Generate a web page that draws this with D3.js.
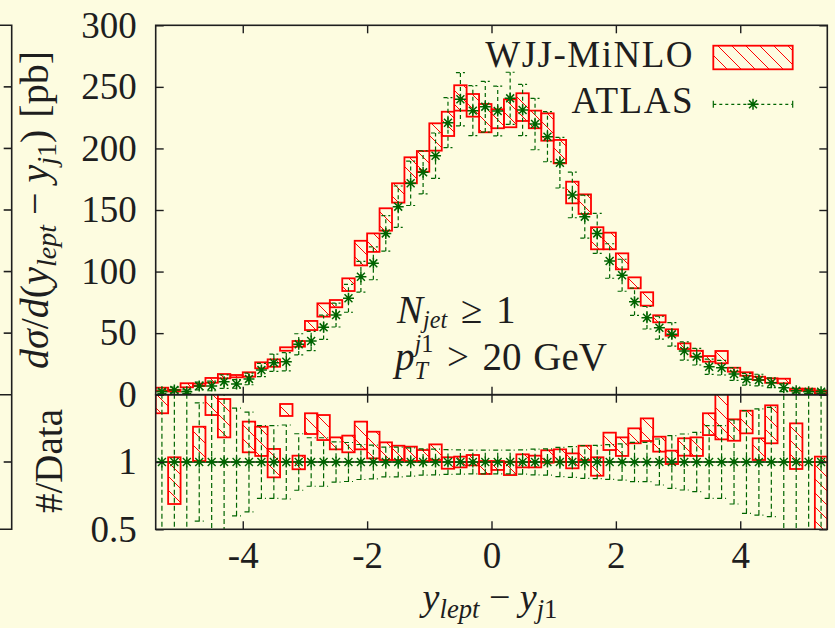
<!DOCTYPE html>
<html lang="en">
<head>
<meta charset="utf-8">
<title>y_lept - y_j1</title>
<script src="https://cdn.jsdelivr.net/npm/d3@7"></script>
<style>
  body { margin: 0; background: #fdfce0; }
  svg text { font-family: "Liberation Serif", "Times New Roman", serif; fill: #1e1e1e; }
</style>
</head>
<body>
<svg id="chart" width="835" height="628"></svg>
<script>
// bin centres, bins are 0.2 wide
var binCenters = [-5.3,-5.1,-4.9,-4.7,-4.5,-4.3,-4.1,-3.9,-3.7,-3.5,-3.3,-3.1,-2.9,-2.7,-2.5,-2.3,-2.1,-1.9,
  -1.7,-1.5,-1.3,-1.1,-0.9,-0.7,-0.5,-0.3,-0.1,0.1,0.3,0.5,0.7,0.9,1.1,1.3,1.5,1.7,1.9,2.1,2.3,2.5,2.7,2.9,
  3.1,3.3,3.5,3.7,3.9,4.1,4.3,4.5,4.7,4.9,5.1,5.3];
var binHalf = 0.1;

// ATLAS data [pb] and relative error
var atlas = [2.4,3.8,2.4,7.1,7.1,10.6,8.7,12.8,20,26,26.8,40.9,43.6,54.7,64.7,78.3,95.8,106.7,
  131,152.7,171.7,180.6,194.1,220.9,239.9,230.7,233.9,230.4,240.7,231.2,219.8,209.5,188.4,162.2,144.6,131,
  108.6,97,75.5,62.5,54.4,49,35.5,30.9,22.7,21.9,16.8,12.5,11.9,9.7,5.7,3.3,2.4,2.4];
var atlasRelErr = [0.6,0.6,0.6,0.44,0.55,0.52,0.40,0.37,0.27,0.27,0.275,0.21,0.18,0.18,0.15,0.145,0.13,0.125,
  0.11,0.11,0.105,0.097,0.095,0.092,0.09,0.088,0.088,0.088,0.088,0.09,0.095,0.097,0.109,0.114,0.121,0.124,
  0.129,0.134,0.146,0.146,0.171,0.196,0.208,0.22,0.27,0.27,0.312,0.381,0.394,0.406,0.55,0.55,0.6,0.6];

// WJJ-MiNLO band [pb]
var minloLo = [3.0,2.6,6.0,7.1,9.7,13.3,14.1,14.6,21.4,22.7,35.7,39,52.5,63.4,71,84.2,105,116,
  133.2,156,171.7,181.1,198.2,210.1,230.7,225.8,213.1,216.4,217.2,222.3,216.4,206.3,187.9,155.4,146.8,118.1,
  118.1,101.8,86.4,72.3,58.8,47.9,37.1,30.9,26.8,25.5,18.7,15.4,11.9,9.7,9.3,3.3,3.3,1.1];
var minloHi = [5.7,4.0,9.3,9.0,13.6,16.8,16.0,18.2,26.3,28.7,38.5,43.6,59.9,74.2,76.9,94.5,125,131,
  151.4,171.7,192.8,197.9,220.4,229.8,251.3,244.2,236.1,231.8,239.9,244.8,230.7,228.5,206.9,173,162.7,136,
  131.6,114.8,95.3,83.2,64.5,53.1,41.7,35.7,31.4,35.5,21.9,18.2,14.6,13.3,13,4.9,4.9,3.3];

// MiNLO / Data
var ratioLo = [1.362,0.688,2.5,1.007,1.349,1.183,1.62,1.072,1.045,0.886,1.342,0.946,1.208,1.163,1.094,1.072,1.094,1.027,
  1.015,1.015,1.007,1.007,1.015,0.95,0.96,0.975,0.911,0.941,0.903,0.96,0.96,0.995,1.002,0.953,1.015,0.898,
  1.089,1.045,1.139,1.156,1.077,0.985,1.047,1.045,1.20,1.168,1.158,1.213,1.015,1.139,1.63,0.948,1.6,0.45];
var ratioHi = [2.0,1.035,3.9,1.262,1.9,1.468,1.84,1.30,1.262,1.097,1.431,1.047,1.362,1.349,1.183,1.196,1.30,1.225,
  1.146,1.121,1.114,1.089,1.131,1.035,1.04,1.052,1.007,1.007,1.002,1.057,1.047,1.087,1.094,1.064,1.121,1.035,
  1.218,1.183,1.25,1.324,1.188,1.084,1.176,1.183,1.362,1.6,1.317,1.381,1.176,1.421,2.28,1.287,2.0,1.04];

var xTicks = [-4,-2,0,2,4];
var yTicksMain = [0,50,100,150,200,250,300];
var yTicksRatio = [0.5,1,1.5];
var yLabelsRatio = [0.5,1];

(function () {
var svg = d3.select("#chart");
var pLeft = 155.7, pRight = 827.3, pTop = 25.3, pMid = 394.7, pBottom = 529.3;
var fs = 37, green = "#006400", red = "#ff0000", ink = "#1e1e1e";
var starR = 5.5, capW = 4.5;

svg.append("rect").attr("width", 835).attr("height", 628).attr("fill", "#fdfce0");

var x = d3.scaleLinear().domain([-5.4, 5.4]).range([pLeft, pRight]);
var y = d3.scaleLinear().domain([0, 300]).range([pMid, pTop]);
var yr = d3.scaleLinear().domain([0.5, 1.5]).range([pBottom, pMid]);

var defs = svg.append("defs");
var hatch = defs.append("pattern").attr("id", "hatch")
    .attr("patternUnits", "userSpaceOnUse").attr("width", 14).attr("height", 14);
hatch.append("path").attr("d", "M0,0L14,14M-2,12L2,16M12,-2L16,2")
    .attr("stroke", red).attr("stroke-width", 1);
defs.append("clipPath").attr("id", "clipMain").append("rect")
    .attr("x", pLeft).attr("y", pTop).attr("width", pRight - pLeft).attr("height", pMid - pTop);
defs.append("clipPath").attr("id", "clipRatio").append("rect")
    .attr("x", pLeft).attr("y", pMid).attr("width", pRight - pLeft).attr("height", pBottom - pMid);

function star(r) {
  var d = r * 0.72;
  return "M" + (-r) + ",0H" + r + "M0," + (-r) + "V" + r +
    "M" + (-d) + "," + (-d) + "L" + d + "," + d + "M" + (-d) + "," + d + "L" + d + "," + (-d);
}
function errPath(xc, y0, y1) {
  return "M" + xc + "," + y0 + "V" + y1 + "M" + (xc - capW) + "," + y0 + "H" + (xc + capW) +
    "M" + (xc - capW) + "," + y1 + "H" + (xc + capW);
}

var bins = binCenters.map(function (c, i) {
  return { c: c, v: atlas[i], e: atlasRelErr[i], lo: minloLo[i], hi: minloHi[i], rlo: ratioLo[i], rhi: ratioHi[i] };
});

// ---- main panel
var gm = svg.append("g").attr("clip-path", "url(#clipMain)");
gm.selectAll("rect.band").data(bins).enter().append("rect")
    .attr("x", function (d) { return x(d.c - binHalf); })
    .attr("width", function (d) { return x(d.c + binHalf) - x(d.c - binHalf); })
    .attr("y", function (d) { return y(d.hi); })
    .attr("height", function (d) { return y(d.lo) - y(d.hi); })
    .attr("fill", "url(#hatch)").attr("stroke", red).attr("stroke-width", 1.8);

gm.selectAll("path.err").data(bins).enter().append("path")
    .attr("stroke", green).attr("stroke-width", 1.2).attr("fill", "none").attr("stroke-dasharray", "4,3")
    .attr("d", function (d) { return errPath(x(d.c), y(d.v * (1 - d.e)), y(d.v * (1 + d.e))); });
gm.selectAll("path.pt").data(bins).enter().append("path")
    .attr("transform", function (d) { return "translate(" + x(d.c) + "," + y(d.v) + ")"; })
    .attr("d", star(starR)).attr("stroke", green).attr("stroke-width", 1.5).attr("fill", "none");

// ---- ratio panel
var gr = svg.append("g").attr("clip-path", "url(#clipRatio)");
gr.append("line").attr("x1", pLeft).attr("x2", pRight).attr("y1", yr(1)).attr("y2", yr(1))
    .attr("stroke", ink).attr("stroke-width", 1.3);
gr.selectAll("rect.band").data(bins).enter().append("rect")
    .attr("x", function (d) { return x(d.c - binHalf); })
    .attr("width", function (d) { return x(d.c + binHalf) - x(d.c - binHalf); })
    .attr("y", function (d) { return yr(d.rhi); })
    .attr("height", function (d) { return yr(d.rlo) - yr(d.rhi); })
    .attr("fill", "url(#hatch)").attr("stroke", red).attr("stroke-width", 1.8);
gr.selectAll("path.err").data(bins).enter().append("path")
    .attr("stroke", green).attr("stroke-width", 1.2).attr("fill", "none").attr("stroke-dasharray", "5,3")
    .attr("d", function (d) { return errPath(x(d.c), yr(1 - d.e), yr(1 + d.e)); });
gr.selectAll("path.pt").data(bins).enter().append("path")
    .attr("transform", function (d) { return "translate(" + x(d.c) + "," + yr(1) + ")"; })
    .attr("d", star(starR)).attr("stroke", green).attr("stroke-width", 1.4).attr("fill", "none");

// ---- axes (ticks point inward)
function styleAxis(g) {
  g.select(".domain").remove();
  g.attr("font-family", null).attr("font-size", fs).attr("color", ink);
  g.selectAll(".tick line").attr("stroke-width", 1.4);
}
svg.append("g").attr("transform", "translate(" + pLeft + ",0)")
    .call(d3.axisLeft(y).tickValues(yTicksMain).tickSizeInner(-8).tickSizeOuter(0).tickPadding(19)).call(styleAxis);
svg.append("g").attr("transform", "translate(" + pRight + ",0)")
    .call(d3.axisRight(y).tickValues(yTicksMain).tickSizeInner(-8).tickSizeOuter(0).tickFormat("")).call(styleAxis);
svg.append("g").attr("transform", "translate(" + pLeft + ",0)")
    .call(d3.axisLeft(yr).tickValues(yTicksRatio).tickSizeInner(-8).tickSizeOuter(0).tickPadding(19)
      .tickFormat(function (d) { return yLabelsRatio.indexOf(d) >= 0 ? d3.format("")(d) : ""; })).call(styleAxis);
svg.append("g").attr("transform", "translate(" + pRight + ",0)")
    .call(d3.axisRight(yr).tickValues(yTicksRatio).tickSizeInner(-8).tickSizeOuter(0).tickFormat("")).call(styleAxis);
svg.append("g").attr("transform", "translate(0," + pTop + ")")
    .call(d3.axisTop(x).tickValues(xTicks).tickSizeInner(-8).tickSizeOuter(0).tickFormat("")).call(styleAxis);
svg.append("g").attr("transform", "translate(0," + pMid + ")")
    .call(d3.axisBottom(x).tickValues(xTicks).tickSizeInner(-8).tickSizeOuter(0).tickFormat("")).call(styleAxis);
svg.append("g").attr("transform", "translate(0," + pMid + ")")
    .call(d3.axisTop(x).tickValues(xTicks).tickSizeInner(-8).tickSizeOuter(0).tickFormat("")).call(styleAxis);
svg.append("g").attr("transform", "translate(0," + pBottom + ")")
    .call(d3.axisBottom(x).tickValues(xTicks).tickSizeInner(-8).tickSizeOuter(0).tickPadding(12)
      .tickFormat(function (d) { return String(d); })).call(styleAxis);

// frames
[[pTop, pMid], [pMid, pBottom]].forEach(function (p) {
  svg.append("rect").attr("x", pLeft).attr("y", p[0]).attr("width", pRight - pLeft).attr("height", p[1] - p[0])
      .attr("fill", "none").attr("stroke", ink).attr("stroke-width", 1.6);
});

// right edge of the neighbouring plot, cut off at the left border
var nb = svg.append("g").attr("stroke", ink).attr("stroke-width", 1.6).attr("fill", "none");
var nbx = 11.7;
nb.append("path").attr("d", "M0," + pTop + "H" + nbx + "V" + pBottom + "H0M0," + pMid + "H" + nbx);
nb.selectAll("line").data(yTicksMain.slice(1, -1).map(y).concat([yr(1)])).enter().append("line")
    .attr("x1", nbx - 8).attr("x2", nbx).attr("y1", function (d) { return d; }).attr("y2", function (d) { return d; });

// ---- text with sub/superscripts
function mathText(parent, runs, size) {
  var g = parent.append("g");
  var cx = 0, mark = 0;
  runs.forEach(function (r) {
    if (r.gap) { cx += r.gap * size; return; }
    if (r.mark) mark = cx;
    var x0 = r.atMark ? mark : cx;
    var t = g.append("text").attr("x", x0).attr("y", (r.dy || 0) * size)
        .attr("font-size", size * (r.s || 1))
        .attr("font-style", r.i ? "italic" : "normal").text(r.t);
    var w = t.node().getComputedTextLength();
    cx = r.atMark ? Math.max(cx, x0 + w) : x0 + w;
  });
  return { g: g, width: cx };
}

var yLab = svg.append("g").attr("transform", "translate(48,210) rotate(-90)");
var yl = mathText(yLab, [
  { t: "d", i: 1 }, { t: "σ", i: 1 }, { t: "/" }, { t: "d", i: 1 }, { t: "(" }, { t: "y", i: 1 },
  { t: "lept", i: 1, s: 0.7, dy: 0.2 }, { gap: 0.25 }, { t: "−" }, { gap: 0.25 }, { t: "y", i: 1 },
  { t: "j", i: 1, s: 0.7, dy: 0.2 }, { t: "1", s: 0.7, dy: 0.2 }, { t: ")" }, { gap: 0.3 }, { t: "[pb]" }
], 40);
yl.g.attr("transform", "translate(" + (-yl.width / 2) + ",0)");

var rLab = svg.append("g").attr("transform", "translate(62,461) rotate(-90)");
var rl = mathText(rLab, [{ t: "#/Data" }], 39);
rl.g.attr("transform", "translate(" + (-rl.width / 2) + ",0)");

var xl = mathText(svg, [
  { t: "y", i: 1 }, { t: "lept", i: 1, s: 0.7, dy: 0.2 }, { gap: 0.25 }, { t: "−" }, { gap: 0.25 },
  { t: "y", i: 1 }, { t: "j", i: 1, s: 0.7, dy: 0.2 }, { t: "1", s: 0.7, dy: 0.2 }
], 38);
xl.g.attr("transform", "translate(" + (490 - xl.width / 2) + ",610)");

var n1 = mathText(svg, [
  { t: "N", i: 1 }, { t: "jet", i: 1, s: 0.62, dy: 0.13 }, { gap: 0.35 }, { t: "≥" }, { gap: 0.35 }, { t: "1" }
], 39);
n1.g.attr("transform", "translate(397,323)");

var pt = mathText(svg, [
  { t: "p", i: 1 }, { t: "j", i: 1, s: 0.62, dy: -0.45, mark: 1 }, { t: "1", s: 0.62, dy: -0.45 },
  { t: "T", i: 1, s: 0.62, dy: 0.24, atMark: 1 }, { gap: 0.35 }, { t: ">" }, { gap: 0.35 }, { t: "20" },
  { gap: 0.3 }, { t: "GeV" }
], 39);
pt.g.attr("transform", "translate(395,370)");

// ---- legend
var lg = svg.append("g");
lg.append("text").attr("x", 694).attr("y", 66.7).attr("text-anchor", "end").attr("font-size", fs)
    .attr("letter-spacing", 1.5).text("WJJ-MiNLO");
lg.append("text").attr("x", 694).attr("y", 113.3).attr("text-anchor", "end").attr("font-size", fs)
    .attr("letter-spacing", 1.5).text("ATLAS");
lg.append("rect").attr("x", 713.3).attr("y", 45.7).attr("width", 79.4).attr("height", 23.6)
    .attr("fill", "url(#hatch)").attr("stroke", red).attr("stroke-width", 1.8);
var ls = lg.append("g").attr("stroke", green).attr("stroke-width", 1.2).attr("fill", "none");
ls.append("path").attr("d", "M713.3,104.3H792.7").attr("stroke-dasharray", "3,3");
ls.append("path").attr("d", "M713.3,100.8V107.8M792.7,100.8V107.8");
ls.append("path").attr("transform", "translate(753,104.3)").attr("d", star(starR)).attr("stroke-width", 1.5);
})();
</script>
</body>
</html>
